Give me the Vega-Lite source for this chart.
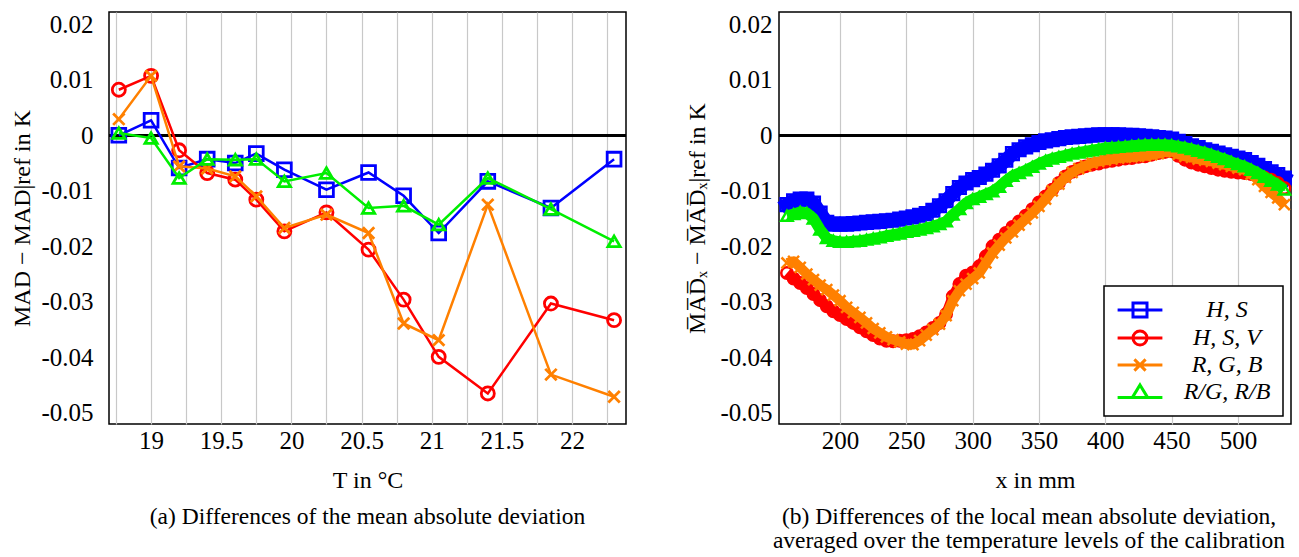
{
  "$schema": "https://vega.github.io/schema/vega-lite/v6.json",
  "background": "white",
  "padding": {"left": 10, "top": 11, "right": 5, "bottom": 0},
  "bounds": "flush",
  "spacing": 153,
  "config": {
    "view": {"stroke": "black", "strokeWidth": 1.5},
    "font": "Liberation Serif",
    "axis": {
      "labelFont": "Liberation Serif", "labelFontSize": 25, "labelColor": "black",
      "titleFont": "Liberation Serif", "titleFontSize": 24, "titleFontWeight": "normal", "titleColor": "black",
      "domain": false, "ticks": false, "gridColor": "#c8c8c8", "gridWidth": 1.2, "gridOpacity": 1,
      "labelOverlap": false, "labelFlush": false
    },
    "title": {"font": "Liberation Serif", "fontSize": 23.5, "fontWeight": "normal", "color": "black", "orient": "bottom", "anchor": "middle"}
  },
  "resolve": {"scale": {"color": "independent", "shape": "independent"}},
  "datasets": {
    "a": [
      {"s": "H, S", "T": 18.77, "v": 0.0000}, {"s": "H, S", "T": 19.0, "v": 0.0027}, {"s": "H, S", "T": 19.2, "v": -0.0059}, {"s": "H, S", "T": 19.4, "v": -0.0043}, {"s": "H, S", "T": 19.6, "v": -0.0050}, {"s": "H, S", "T": 19.75, "v": -0.0033}, {"s": "H, S", "T": 19.95, "v": -0.0062}, {"s": "H, S", "T": 20.25, "v": -0.0098}, {"s": "H, S", "T": 20.55, "v": -0.0067}, {"s": "H, S", "T": 20.8, "v": -0.0109}, {"s": "H, S", "T": 21.05, "v": -0.0176}, {"s": "H, S", "T": 21.4, "v": -0.0083}, {"s": "H, S", "T": 21.85, "v": -0.0131}, {"s": "H, S", "T": 22.3, "v": -0.0043},
      {"s": "H, S, V", "T": 18.77, "v": 0.0082}, {"s": "H, S, V", "T": 19.0, "v": 0.0107}, {"s": "H, S, V", "T": 19.2, "v": -0.0027}, {"s": "H, S, V", "T": 19.4, "v": -0.0068}, {"s": "H, S, V", "T": 19.6, "v": -0.0080}, {"s": "H, S, V", "T": 19.75, "v": -0.0116}, {"s": "H, S, V", "T": 19.95, "v": -0.0173}, {"s": "H, S, V", "T": 20.25, "v": -0.0139}, {"s": "H, S, V", "T": 20.55, "v": -0.0206}, {"s": "H, S, V", "T": 20.8, "v": -0.0296}, {"s": "H, S, V", "T": 21.05, "v": -0.0399}, {"s": "H, S, V", "T": 21.4, "v": -0.0465}, {"s": "H, S, V", "T": 21.85, "v": -0.0303}, {"s": "H, S, V", "T": 22.3, "v": -0.0333},
      {"s": "R, G, B", "T": 18.77, "v": 0.0029}, {"s": "R, G, B", "T": 19.0, "v": 0.0107}, {"s": "R, G, B", "T": 19.2, "v": -0.0056}, {"s": "R, G, B", "T": 19.4, "v": -0.0060}, {"s": "R, G, B", "T": 19.6, "v": -0.0074}, {"s": "R, G, B", "T": 19.75, "v": -0.0110}, {"s": "R, G, B", "T": 19.95, "v": -0.0167}, {"s": "R, G, B", "T": 20.25, "v": -0.0143}, {"s": "R, G, B", "T": 20.55, "v": -0.0176}, {"s": "R, G, B", "T": 20.8, "v": -0.0339}, {"s": "R, G, B", "T": 21.05, "v": -0.0369}, {"s": "R, G, B", "T": 21.4, "v": -0.0125}, {"s": "R, G, B", "T": 21.85, "v": -0.0431}, {"s": "R, G, B", "T": 22.3, "v": -0.0471},
      {"s": "R/G, R/B", "T": 18.77, "v": 0.0004}, {"s": "R/G, R/B", "T": 19.0, "v": -0.0005}, {"s": "R/G, R/B", "T": 19.2, "v": -0.0077}, {"s": "R/G, R/B", "T": 19.4, "v": -0.0043}, {"s": "R/G, R/B", "T": 19.6, "v": -0.0044}, {"s": "R/G, R/B", "T": 19.75, "v": -0.0043}, {"s": "R/G, R/B", "T": 19.95, "v": -0.0083}, {"s": "R/G, R/B", "T": 20.25, "v": -0.0068}, {"s": "R/G, R/B", "T": 20.55, "v": -0.0131}, {"s": "R/G, R/B", "T": 20.8, "v": -0.0127}, {"s": "R/G, R/B", "T": 21.05, "v": -0.0161}, {"s": "R/G, R/B", "T": 21.4, "v": -0.0077}, {"s": "R/G, R/B", "T": 21.85, "v": -0.0133}, {"s": "R/G, R/B", "T": 22.3, "v": -0.0191}
    ],
    "b": [
      {"s":"H, S","x":160,"v":-0.0125},{"s":"H, S","x":165,"v":-0.0118},{"s":"H, S","x":170,"v":-0.0115},{"s":"H, S","x":175,"v":-0.0115},{"s":"H, S","x":180,"v":-0.0122},{"s":"H, S","x":185,"v":-0.0140},{"s":"H, S","x":190,"v":-0.0157},{"s":"H, S","x":195,"v":-0.0160},{"s":"H, S","x":200,"v":-0.0160},{"s":"H, S","x":205,"v":-0.0160},{"s":"H, S","x":210,"v":-0.0159},{"s":"H, S","x":215,"v":-0.0158},{"s":"H, S","x":220,"v":-0.0157},{"s":"H, S","x":225,"v":-0.0156},{"s":"H, S","x":230,"v":-0.0155},{"s":"H, S","x":235,"v":-0.0154},{"s":"H, S","x":240,"v":-0.0153},{"s":"H, S","x":245,"v":-0.0151},{"s":"H, S","x":250,"v":-0.0149},{"s":"H, S","x":255,"v":-0.0147},{"s":"H, S","x":260,"v":-0.0144},{"s":"H, S","x":265,"v":-0.0141},{"s":"H, S","x":270,"v":-0.0135},{"s":"H, S","x":275,"v":-0.0127},{"s":"H, S","x":280,"v":-0.0118},{"s":"H, S","x":285,"v":-0.0105},{"s":"H, S","x":290,"v":-0.0094},{"s":"H, S","x":295,"v":-0.0086},{"s":"H, S","x":300,"v":-0.0080},{"s":"H, S","x":305,"v":-0.0076},{"s":"H, S","x":310,"v":-0.0070},{"s":"H, S","x":315,"v":-0.0063},{"s":"H, S","x":320,"v":-0.0055},{"s":"H, S","x":325,"v":-0.0045},{"s":"H, S","x":330,"v":-0.0033},{"s":"H, S","x":335,"v":-0.0026},{"s":"H, S","x":340,"v":-0.0021},{"s":"H, S","x":345,"v":-0.0017},{"s":"H, S","x":350,"v":-0.0013},{"s":"H, S","x":355,"v":-0.0010},{"s":"H, S","x":360,"v":-0.0008},{"s":"H, S","x":365,"v":-0.0006},{"s":"H, S","x":370,"v":-0.0004},{"s":"H, S","x":375,"v":-0.0003},{"s":"H, S","x":380,"v":-0.0002},{"s":"H, S","x":385,"v":-0.0001},{"s":"H, S","x":390,"v":0.0000},{"s":"H, S","x":395,"v":0.0001},{"s":"H, S","x":400,"v":0.0001},{"s":"H, S","x":405,"v":0.0001},{"s":"H, S","x":410,"v":0.0001},{"s":"H, S","x":415,"v":0.0000},{"s":"H, S","x":420,"v":0.0000},{"s":"H, S","x":425,"v":-0.0001},{"s":"H, S","x":430,"v":-0.0002},{"s":"H, S","x":435,"v":-0.0003},{"s":"H, S","x":440,"v":-0.0004},{"s":"H, S","x":445,"v":-0.0005},{"s":"H, S","x":450,"v":-0.0007},{"s":"H, S","x":455,"v":-0.0011},{"s":"H, S","x":460,"v":-0.0015},{"s":"H, S","x":465,"v":-0.0019},{"s":"H, S","x":470,"v":-0.0022},{"s":"H, S","x":475,"v":-0.0026},{"s":"H, S","x":480,"v":-0.0029},{"s":"H, S","x":485,"v":-0.0032},{"s":"H, S","x":490,"v":-0.0035},{"s":"H, S","x":495,"v":-0.0038},{"s":"H, S","x":500,"v":-0.0041},{"s":"H, S","x":505,"v":-0.0044},{"s":"H, S","x":510,"v":-0.0049},{"s":"H, S","x":515,"v":-0.0054},{"s":"H, S","x":520,"v":-0.0060},{"s":"H, S","x":525,"v":-0.0066},{"s":"H, S","x":530,"v":-0.0071},{"s":"H, S","x":535,"v":-0.0077},
      {"s":"H, S, V","x":160,"v":-0.0248},{"s":"H, S, V","x":165,"v":-0.0258},{"s":"H, S, V","x":170,"v":-0.0266},{"s":"H, S, V","x":175,"v":-0.0275},{"s":"H, S, V","x":180,"v":-0.0286},{"s":"H, S, V","x":185,"v":-0.0297},{"s":"H, S, V","x":190,"v":-0.0308},{"s":"H, S, V","x":195,"v":-0.0317},{"s":"H, S, V","x":200,"v":-0.0324},{"s":"H, S, V","x":205,"v":-0.0331},{"s":"H, S, V","x":210,"v":-0.0338},{"s":"H, S, V","x":215,"v":-0.0346},{"s":"H, S, V","x":220,"v":-0.0353},{"s":"H, S, V","x":225,"v":-0.0360},{"s":"H, S, V","x":230,"v":-0.0366},{"s":"H, S, V","x":235,"v":-0.0370},{"s":"H, S, V","x":240,"v":-0.0371},{"s":"H, S, V","x":245,"v":-0.0370},{"s":"H, S, V","x":250,"v":-0.0369},{"s":"H, S, V","x":255,"v":-0.0367},{"s":"H, S, V","x":260,"v":-0.0362},{"s":"H, S, V","x":265,"v":-0.0355},{"s":"H, S, V","x":270,"v":-0.0347},{"s":"H, S, V","x":275,"v":-0.0338},{"s":"H, S, V","x":280,"v":-0.0322},{"s":"H, S, V","x":285,"v":-0.0290},{"s":"H, S, V","x":290,"v":-0.0268},{"s":"H, S, V","x":295,"v":-0.0253},{"s":"H, S, V","x":300,"v":-0.0247},{"s":"H, S, V","x":305,"v":-0.0236},{"s":"H, S, V","x":310,"v":-0.0218},{"s":"H, S, V","x":315,"v":-0.0200},{"s":"H, S, V","x":320,"v":-0.0188},{"s":"H, S, V","x":325,"v":-0.0176},{"s":"H, S, V","x":330,"v":-0.0165},{"s":"H, S, V","x":335,"v":-0.0155},{"s":"H, S, V","x":340,"v":-0.0145},{"s":"H, S, V","x":345,"v":-0.0133},{"s":"H, S, V","x":350,"v":-0.0121},{"s":"H, S, V","x":355,"v":-0.0110},{"s":"H, S, V","x":360,"v":-0.0098},{"s":"H, S, V","x":365,"v":-0.0086},{"s":"H, S, V","x":370,"v":-0.0074},{"s":"H, S, V","x":375,"v":-0.0066},{"s":"H, S, V","x":380,"v":-0.0060},{"s":"H, S, V","x":385,"v":-0.0056},{"s":"H, S, V","x":390,"v":-0.0053},{"s":"H, S, V","x":395,"v":-0.0051},{"s":"H, S, V","x":400,"v":-0.0048},{"s":"H, S, V","x":405,"v":-0.0046},{"s":"H, S, V","x":410,"v":-0.0044},{"s":"H, S, V","x":415,"v":-0.0042},{"s":"H, S, V","x":420,"v":-0.0041},{"s":"H, S, V","x":425,"v":-0.0039},{"s":"H, S, V","x":430,"v":-0.0038},{"s":"H, S, V","x":435,"v":-0.0035},{"s":"H, S, V","x":440,"v":-0.0032},{"s":"H, S, V","x":445,"v":-0.0030},{"s":"H, S, V","x":450,"v":-0.0029},{"s":"H, S, V","x":455,"v":-0.0037},{"s":"H, S, V","x":460,"v":-0.0044},{"s":"H, S, V","x":465,"v":-0.0049},{"s":"H, S, V","x":470,"v":-0.0053},{"s":"H, S, V","x":475,"v":-0.0056},{"s":"H, S, V","x":480,"v":-0.0059},{"s":"H, S, V","x":485,"v":-0.0062},{"s":"H, S, V","x":490,"v":-0.0064},{"s":"H, S, V","x":495,"v":-0.0066},{"s":"H, S, V","x":500,"v":-0.0067},{"s":"H, S, V","x":505,"v":-0.0068},{"s":"H, S, V","x":510,"v":-0.0070},{"s":"H, S, V","x":515,"v":-0.0073},{"s":"H, S, V","x":520,"v":-0.0076},{"s":"H, S, V","x":525,"v":-0.0080},{"s":"H, S, V","x":530,"v":-0.0086},{"s":"H, S, V","x":535,"v":-0.0095},
      {"s":"R, G, B","x":160,"v":-0.0230},{"s":"R, G, B","x":165,"v":-0.0227},{"s":"R, G, B","x":170,"v":-0.0238},{"s":"R, G, B","x":175,"v":-0.0250},{"s":"R, G, B","x":180,"v":-0.0260},{"s":"R, G, B","x":185,"v":-0.0270},{"s":"R, G, B","x":190,"v":-0.0278},{"s":"R, G, B","x":195,"v":-0.0288},{"s":"R, G, B","x":200,"v":-0.0298},{"s":"R, G, B","x":205,"v":-0.0310},{"s":"R, G, B","x":210,"v":-0.0319},{"s":"R, G, B","x":215,"v":-0.0328},{"s":"R, G, B","x":220,"v":-0.0338},{"s":"R, G, B","x":225,"v":-0.0348},{"s":"R, G, B","x":230,"v":-0.0356},{"s":"R, G, B","x":235,"v":-0.0363},{"s":"R, G, B","x":240,"v":-0.0368},{"s":"R, G, B","x":245,"v":-0.0372},{"s":"R, G, B","x":250,"v":-0.0376},{"s":"R, G, B","x":255,"v":-0.0377},{"s":"R, G, B","x":260,"v":-0.0370},{"s":"R, G, B","x":265,"v":-0.0360},{"s":"R, G, B","x":270,"v":-0.0350},{"s":"R, G, B","x":275,"v":-0.0340},{"s":"R, G, B","x":280,"v":-0.0325},{"s":"R, G, B","x":285,"v":-0.0298},{"s":"R, G, B","x":290,"v":-0.0280},{"s":"R, G, B","x":295,"v":-0.0268},{"s":"R, G, B","x":300,"v":-0.0258},{"s":"R, G, B","x":305,"v":-0.0248},{"s":"R, G, B","x":310,"v":-0.0230},{"s":"R, G, B","x":315,"v":-0.0212},{"s":"R, G, B","x":320,"v":-0.0198},{"s":"R, G, B","x":325,"v":-0.0185},{"s":"R, G, B","x":330,"v":-0.0174},{"s":"R, G, B","x":335,"v":-0.0162},{"s":"R, G, B","x":340,"v":-0.0151},{"s":"R, G, B","x":345,"v":-0.0140},{"s":"R, G, B","x":350,"v":-0.0128},{"s":"R, G, B","x":355,"v":-0.0115},{"s":"R, G, B","x":360,"v":-0.0100},{"s":"R, G, B","x":365,"v":-0.0088},{"s":"R, G, B","x":370,"v":-0.0076},{"s":"R, G, B","x":375,"v":-0.0067},{"s":"R, G, B","x":380,"v":-0.0060},{"s":"R, G, B","x":385,"v":-0.0055},{"s":"R, G, B","x":390,"v":-0.0050},{"s":"R, G, B","x":395,"v":-0.0047},{"s":"R, G, B","x":400,"v":-0.0045},{"s":"R, G, B","x":405,"v":-0.0043},{"s":"R, G, B","x":410,"v":-0.0041},{"s":"R, G, B","x":415,"v":-0.0040},{"s":"R, G, B","x":420,"v":-0.0039},{"s":"R, G, B","x":425,"v":-0.0038},{"s":"R, G, B","x":430,"v":-0.0037},{"s":"R, G, B","x":435,"v":-0.0035},{"s":"R, G, B","x":440,"v":-0.0033},{"s":"R, G, B","x":445,"v":-0.0030},{"s":"R, G, B","x":450,"v":-0.0029},{"s":"R, G, B","x":455,"v":-0.0034},{"s":"R, G, B","x":460,"v":-0.0038},{"s":"R, G, B","x":465,"v":-0.0040},{"s":"R, G, B","x":470,"v":-0.0043},{"s":"R, G, B","x":475,"v":-0.0045},{"s":"R, G, B","x":480,"v":-0.0047},{"s":"R, G, B","x":485,"v":-0.0050},{"s":"R, G, B","x":490,"v":-0.0053},{"s":"R, G, B","x":495,"v":-0.0056},{"s":"R, G, B","x":500,"v":-0.0059},{"s":"R, G, B","x":505,"v":-0.0062},{"s":"R, G, B","x":510,"v":-0.0070},{"s":"R, G, B","x":515,"v":-0.0080},{"s":"R, G, B","x":520,"v":-0.0092},{"s":"R, G, B","x":525,"v":-0.0103},{"s":"R, G, B","x":530,"v":-0.0113},{"s":"R, G, B","x":535,"v":-0.0125},
      {"s":"R/G, R/B","x":160,"v":-0.0145},{"s":"R/G, R/B","x":165,"v":-0.0142},{"s":"R/G, R/B","x":170,"v":-0.0138},{"s":"R/G, R/B","x":175,"v":-0.0140},{"s":"R/G, R/B","x":180,"v":-0.0150},{"s":"R/G, R/B","x":185,"v":-0.0170},{"s":"R/G, R/B","x":190,"v":-0.0185},{"s":"R/G, R/B","x":195,"v":-0.0190},{"s":"R/G, R/B","x":200,"v":-0.0192},{"s":"R/G, R/B","x":205,"v":-0.0192},{"s":"R/G, R/B","x":210,"v":-0.0191},{"s":"R/G, R/B","x":215,"v":-0.0190},{"s":"R/G, R/B","x":220,"v":-0.0188},{"s":"R/G, R/B","x":225,"v":-0.0186},{"s":"R/G, R/B","x":230,"v":-0.0184},{"s":"R/G, R/B","x":235,"v":-0.0181},{"s":"R/G, R/B","x":240,"v":-0.0179},{"s":"R/G, R/B","x":245,"v":-0.0177},{"s":"R/G, R/B","x":250,"v":-0.0174},{"s":"R/G, R/B","x":255,"v":-0.0172},{"s":"R/G, R/B","x":260,"v":-0.0170},{"s":"R/G, R/B","x":265,"v":-0.0167},{"s":"R/G, R/B","x":270,"v":-0.0164},{"s":"R/G, R/B","x":275,"v":-0.0160},{"s":"R/G, R/B","x":280,"v":-0.0155},{"s":"R/G, R/B","x":285,"v":-0.0143},{"s":"R/G, R/B","x":290,"v":-0.0133},{"s":"R/G, R/B","x":295,"v":-0.0122},{"s":"R/G, R/B","x":300,"v":-0.0115},{"s":"R/G, R/B","x":305,"v":-0.0111},{"s":"R/G, R/B","x":310,"v":-0.0106},{"s":"R/G, R/B","x":315,"v":-0.0101},{"s":"R/G, R/B","x":320,"v":-0.0093},{"s":"R/G, R/B","x":325,"v":-0.0082},{"s":"R/G, R/B","x":330,"v":-0.0073},{"s":"R/G, R/B","x":335,"v":-0.0068},{"s":"R/G, R/B","x":340,"v":-0.0063},{"s":"R/G, R/B","x":345,"v":-0.0057},{"s":"R/G, R/B","x":350,"v":-0.0051},{"s":"R/G, R/B","x":355,"v":-0.0046},{"s":"R/G, R/B","x":360,"v":-0.0042},{"s":"R/G, R/B","x":365,"v":-0.0039},{"s":"R/G, R/B","x":370,"v":-0.0036},{"s":"R/G, R/B","x":375,"v":-0.0033},{"s":"R/G, R/B","x":380,"v":-0.0031},{"s":"R/G, R/B","x":385,"v":-0.0029},{"s":"R/G, R/B","x":390,"v":-0.0027},{"s":"R/G, R/B","x":395,"v":-0.0025},{"s":"R/G, R/B","x":400,"v":-0.0023},{"s":"R/G, R/B","x":405,"v":-0.0022},{"s":"R/G, R/B","x":410,"v":-0.0021},{"s":"R/G, R/B","x":415,"v":-0.0020},{"s":"R/G, R/B","x":420,"v":-0.0019},{"s":"R/G, R/B","x":425,"v":-0.0018},{"s":"R/G, R/B","x":430,"v":-0.0017},{"s":"R/G, R/B","x":435,"v":-0.0017},{"s":"R/G, R/B","x":440,"v":-0.0017},{"s":"R/G, R/B","x":445,"v":-0.0017},{"s":"R/G, R/B","x":450,"v":-0.0018},{"s":"R/G, R/B","x":455,"v":-0.0020},{"s":"R/G, R/B","x":460,"v":-0.0022},{"s":"R/G, R/B","x":465,"v":-0.0025},{"s":"R/G, R/B","x":470,"v":-0.0028},{"s":"R/G, R/B","x":475,"v":-0.0031},{"s":"R/G, R/B","x":480,"v":-0.0035},{"s":"R/G, R/B","x":485,"v":-0.0039},{"s":"R/G, R/B","x":490,"v":-0.0043},{"s":"R/G, R/B","x":495,"v":-0.0048},{"s":"R/G, R/B","x":500,"v":-0.0052},{"s":"R/G, R/B","x":505,"v":-0.0056},{"s":"R/G, R/B","x":510,"v":-0.0062},{"s":"R/G, R/B","x":515,"v":-0.0068},{"s":"R/G, R/B","x":520,"v":-0.0075},{"s":"R/G, R/B","x":525,"v":-0.0082},{"s":"R/G, R/B","x":530,"v":-0.0089},{"s":"R/G, R/B","x":535,"v":-0.0098}
    ]
  },
  "hconcat": [
    {
      "width": 517, "height": 412,
      "data": {"name": "a"},
      "title": {"text": "(a) Differences of the mean absolute deviation", "offset": 13},
      "layer": [
        {"mark": {"type": "rule", "color": "black", "strokeWidth": 2}, "encoding": {"y": {"datum": 0, "type": "quantitative"}}},
        {
          "encoding": {
            "x": {"field": "T", "type": "quantitative", "scale": {"domain": [18.7, 22.385], "nice": false, "zero": false},
                  "axis": {"title": "T in °C", "values": [18.75,19,19.25,19.5,19.75,20,20.25,20.5,20.75,21,21.25,21.5,21.75,22,22.25],
                           "labelExpr": "(datum.value*2) % 1 === 0 ? format(datum.value, '~g') : ''", "labelPadding": 4, "titlePadding": 15}},
            "y": {"field": "v", "type": "quantitative", "scale": {"domain": [-0.052, 0.0222], "nice": false, "zero": false},
                  "axis": {"title": "MAD − MAD|ref in K", "values": [-0.05,-0.04,-0.03,-0.02,-0.01,0,0.01,0.02],
                           "labelExpr": "replace(format(datum.value, '.2~f'), '−', '-')", "labelPadding": 16, "titlePadding": 6}},
            "color": {"field": "s", "type": "nominal", "legend": null,
                      "scale": {"domain": ["H, S","H, S, V","R, G, B","R/G, R/B"], "range": ["#0000ff","#ff0000","#ff8000","#00ee00"]}}
          },
          "layer": [
            {"transform": [{"filter": "datum.s === 'H, S'"}], "layer": [
              {"mark": {"type": "line", "strokeWidth": 2.5}},
              {"mark": {"type": "point", "filled": false, "strokeWidth": 2.8, "size": 190, "opacity": 1, "shape": "square"}}
            ]},
            {"transform": [{"filter": "datum.s === 'H, S, V'"}], "layer": [
              {"mark": {"type": "line", "strokeWidth": 2.5}},
              {"mark": {"type": "point", "filled": false, "strokeWidth": 2.8, "size": 170, "opacity": 1, "shape": "circle"}}
            ]},
            {"transform": [{"filter": "datum.s === 'R, G, B'"}], "layer": [
              {"mark": {"type": "line", "strokeWidth": 2.5}},
              {"mark": {"type": "point", "filled": false, "strokeWidth": 2.8, "size": 130, "opacity": 1, "shape": "M-1,-1L1,1M-1,1L1,-1"}}
            ]},
            {"transform": [{"filter": "datum.s === 'R/G, R/B'"}], "layer": [
              {"mark": {"type": "line", "strokeWidth": 2.5}},
              {"mark": {"type": "point", "filled": false, "strokeWidth": 2.8, "size": 150, "opacity": 1, "shape": "triangle-up"}}
            ]}
          ]
        }
      ]
    },
    {
      "width": 512, "height": 412,
      "data": {"name": "b"},
      "title": {"text": ["(b) Differences of the local mean absolute deviation,", "averaged over the temperature levels of the calibration"], "offset": 13, "lineHeight": 24, "dx": -6},
      "layer": [
        {"mark": {"type": "rule", "color": "black", "strokeWidth": 2}, "encoding": {"y": {"datum": 0, "type": "quantitative"}}},
        {
          "encoding": {
            "x": {"field": "x", "type": "quantitative", "scale": {"domain": [154, 540], "nice": false, "zero": false},
                  "axis": {"title": "x in mm", "values": [200,250,300,350,400,450,500], "labelPadding": 4, "titlePadding": 15}},
            "y": {"field": "v", "type": "quantitative", "scale": {"domain": [-0.052, 0.0222], "nice": false, "zero": false},
                  "axis": {"title": "M̅A̅D̅ₓ − M̅A̅D̅ₓ|ref in K", "values": [-0.05,-0.04,-0.03,-0.02,-0.01,0,0.01,0.02],
                           "labelExpr": "replace(format(datum.value, '.2~f'), '−', '-')", "labelPadding": 7, "titlePadding": 10}},
            "color": {"field": "s", "type": "nominal",
                      "scale": {"domain": ["H, S","H, S, V","R, G, B","R/G, R/B"], "range": ["#0000ff","#ff0000","#ff8000","#00ee00"]},
                      "legend": {"title": null, "orient": "bottom-right", "offset": 8, "strokeColor": "black", "fillColor": "white",
                                 "padding": 12, "rowPadding": 2, "symbolSize": 196, "symbolStrokeWidth": 3, "symbolOffset": 12, "labelOffset": 75,
                                 "labelFont": "Liberation Serif", "labelFontStyle": "italic", "labelFontSize": 24, "labelColor": "black", "labelAlign": "center",
                                 "encode": {"legend": {"update": {"strokeWidth": {"value": 1.5}}}}}}
          },
          "layer": [
            {"transform": [{"filter": "datum.s === 'H, S'"}], "layer": [
              {"mark": {"type": "line", "strokeWidth": 14, "strokeJoin": "round", "strokeCap": "square"}},
              {"mark": {"type": "point", "filled": false, "strokeWidth": 2.5, "size": 160, "opacity": 1, "shape": "square"}}
            ]},
            {"transform": [{"filter": "datum.s === 'H, S, V'"}], "layer": [
              {"mark": {"type": "line", "strokeWidth": 10, "strokeJoin": "round"}},
              {"mark": {"type": "point", "filled": false, "strokeWidth": 2.5, "size": 130, "opacity": 1, "shape": "circle"}}
            ]},
            {"transform": [{"filter": "datum.s === 'R, G, B'"}], "layer": [
              {"mark": {"type": "line", "strokeWidth": 10, "strokeJoin": "round"}},
              {"mark": {"type": "point", "filled": false, "strokeWidth": 2.5, "size": 120, "opacity": 1, "shape": "M-1,-1L1,1M-1,1L1,-1"}}
            ]},
            {"transform": [{"filter": "datum.s === 'R/G, R/B'"}], "layer": [
              {"mark": {"type": "line", "strokeWidth": 11, "strokeJoin": "round"}},
              {"mark": {"type": "point", "filled": false, "strokeWidth": 2.5, "size": 130, "opacity": 1, "shape": "triangle-up"}}
            ]},
            {"transform": [{"filter": "false"}],
             "mark": {"type": "point", "filled": false, "strokeWidth": 3},
             "encoding": {"shape": {"field": "s", "type": "nominal",
                "scale": {"domain": ["H, S","H, S, V","R, G, B","R/G, R/B"],
                          "range": ["M-3.2,0H3.2M-1,-1H1V1H-1Z", "M-3.2,0H-1M1,0H3.2M-1,0A1,1 0 1,0 1,0A1,1 0 1,0 -1,0M-1,0H1", "M-3.2,0H3.2M-0.8,-0.8L0.8,0.8M-0.8,0.8L0.8,-0.8", "M-3.2,0.8H3.2M0,-1L1.1,0.8L-1.1,0.8Z"]},
                "legend": {"title": null, "orient": "bottom-right", "offset": 8, "strokeColor": "black", "fillColor": "white",
                           "padding": 12, "rowPadding": 2, "symbolSize": 196, "symbolStrokeWidth": 3, "symbolOffset": 12, "labelOffset": 75,
                           "labelFont": "Liberation Serif", "labelFontStyle": "italic", "labelFontSize": 24, "labelColor": "black", "labelAlign": "center",
                           "encode": {"legend": {"update": {"strokeWidth": {"value": 1.5}}}}}}}}
          ]
        }
      ]
    }
  ]
}
